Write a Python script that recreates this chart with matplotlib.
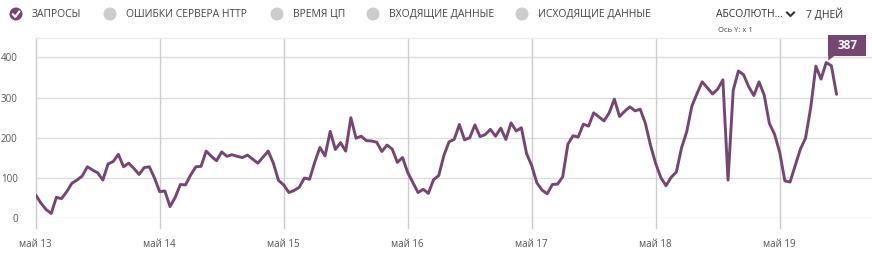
import matplotlib
matplotlib.use("Agg")
import matplotlib.pyplot as plt
from matplotlib.patches import Circle, Rectangle, Polygon
import numpy as np

plt.rcParams['font.family'] = ['Open Sans', 'DejaVu Sans']

# ---- data ----
values = [58, 38, 22, 12, 52, 49, 66, 87, 95, 105, 128, 120, 113, 95, 135, 141,
          159, 128, 137, 124, 109, 126, 128, 100, 66, 68, 29, 52, 84, 83, 108, 128,
          129, 167, 154, 143, 165, 154, 158, 154, 151, 157, 147, 137, 152, 167, 137, 94,
          83, 64, 69, 77, 100, 97, 139, 176, 155, 216, 171, 188, 167, 250, 199, 204,
          193, 192, 189, 166, 182, 172, 139, 151, 114, 89, 64, 72, 62, 96, 106, 156,
          190, 196, 233, 195, 200, 232, 203, 208, 221, 204, 224, 196, 237, 217, 225, 161,
          131, 88, 70, 61, 84, 85, 103, 184, 205, 202, 234, 229, 262, 252, 242, 262,
          296, 253, 266, 277, 267, 271, 236, 181, 136, 101, 81, 102, 115, 175, 215, 279,
          310, 339, 324, 309, 321, 344, 95, 318, 366, 357, 327, 305, 339, 306, 236, 209,
          164, 93, 90, 131, 172, 199, 275, 378, 346, 387, 379, 308]
hours = list(range(len(values)))
day_ticks = [0, 24, 48, 72, 96, 120, 144]
day_labels = ["май 13", "май 14", "май 15", "май 16", "май 17", "май 18", "май 19"]
y_ticks = [0, 100, 200, 300, 400]
legend_items = ["ЗАПРОСЫ", "ОШИБКИ СЕРВЕРА HTTP", "ВРЕМЯ ЦП", "ВХОДЯЩИЕ ДАННЫЕ", "ИСХОДЯЩИЕ ДАННЫЕ"]
legend_checked = [True, False, False, False, False]

PURPLE = "#764673"
W, H = 872, 256
fig = plt.figure(figsize=(W / 100, H / 100), dpi=100)

left_px, right_px, top_px, bottom_px = 35.7, 872, 38, 218.3
ax = fig.add_axes([left_px / W, 1 - bottom_px / H, (right_px - left_px) / W, (bottom_px - top_px) / H])
ax.plot(hours, values, color=PURPLE, lw=2.1, solid_joinstyle='round', solid_capstyle='round', zorder=3)
ax.set_xlim(0, (right_px - left_px) / 5.1667)
ax.set_ylim(0, 448)
ax.set_xticks(day_ticks)
ax.set_xticklabels(day_labels)
ax.set_yticks(y_ticks)
ax.tick_params(axis='both', length=0, labelsize=7, colors="#555555")
ax.tick_params(axis='x', pad=15)
ax.tick_params(axis='y', pad=13)
for s in ['left', 'right', 'bottom']:
    ax.spines[s].set_visible(False)
ax.spines['top'].set_color("#ececec")
ax.spines['top'].set_linewidth(1.0)
for y in y_ticks:
    ax.axhline(y, color="#dcdcdc", lw=1.0, zorder=1)
for x in day_ticks:
    ax.plot([x, x], [-25, 448], color="#cccccc", lw=1.0, zorder=1, clip_on=False)

# ---- overlay in pixel coords ----
ov = fig.add_axes([0, 0, 1, 1], facecolor='none')
ov.set_xlim(0, W)
ov.set_ylim(H, 0)
ov.axis('off')

circle_x = [16, 110, 277, 373, 522]
for cx, lab, chk in zip(circle_x, legend_items, legend_checked):
    if chk:
        ov.add_patch(Circle((cx, 14), 6.5, color=PURPLE, lw=0))
        ov.plot([cx - 3.2, cx - 0.8, cx + 3.4], [14.2, 16.8, 11.4], color="white", lw=1.6,
                solid_capstyle='round', solid_joinstyle='round')
    else:
        ov.add_patch(Circle((cx, 14), 6.5, color="#cccccc", lw=0))
    ov.text(cx + 16, 14.5, lab, fontsize=7.5, color="#444444", va='center', ha='left')

ov.text(716, 14.5, "АБСОЛЮТН...", fontsize=7.5, color="#333333", va='center', ha='left')
ov.plot([787, 790.5, 794], [12.5, 16, 12.5], color="#333333", lw=1.5)
ov.text(806, 14.5, "7 ДНЕЙ", fontsize=7.5, color="#333333", va='center', ha='left')
ov.text(718, 31, "Ось Y: x 1", fontsize=5.5, color="#444444", va='center', ha='left')

# tooltip anchored at the peak
pk = int(np.argmax(values))
fig.canvas.draw()
px, py = ax.transData.transform((hours[pk], values[pk]))
py = H - py
bx0, by1 = px + 2, py - 7
ov.add_patch(Rectangle((bx0, by1 - 21), 38, 21, color=PURPLE, lw=0, zorder=5))
ov.add_patch(Polygon([(bx0, by1 - 1), (bx0 + 8, by1 - 1), (bx0, by1 + 5)], closed=True,
                     color=PURPLE, lw=0, zorder=5))
ov.text(bx0 + 19, by1 - 10.5, str(values[pk]), fontsize=8.5, fontweight='bold', color="white",
        ha='center', va='center', zorder=6)

fig.savefig("out.png", dpi=100)
